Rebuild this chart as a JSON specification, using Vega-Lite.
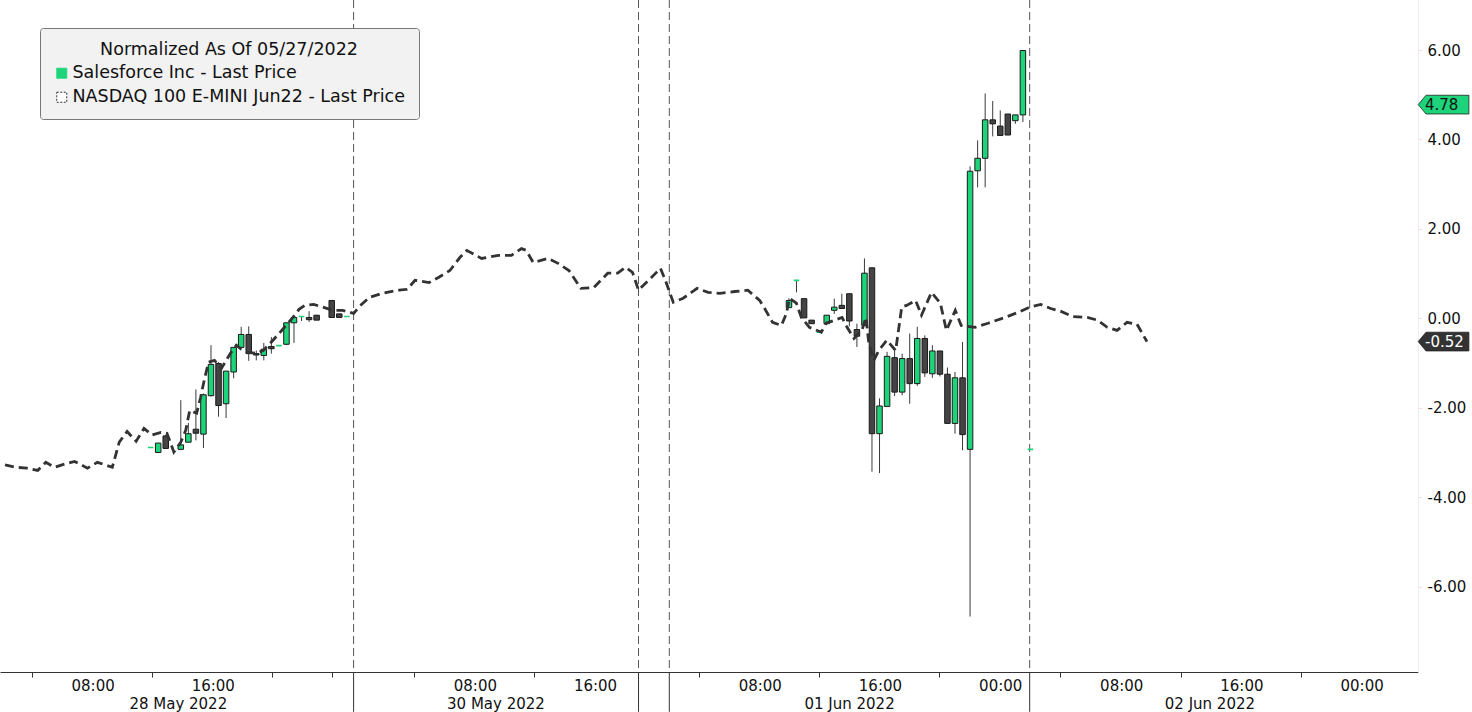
{
  "$schema": "https://vega.github.io/schema/vega-lite/v6.json",
  "width": 1418,
  "height": 672,
  "autosize": "none",
  "padding": {"left": 0, "top": 0, "right": 54, "bottom": 40},
  "background": "#ffffff",
  "config": {"font": "DejaVu Sans", "view": {"stroke": null}},
  "datasets": {
    "candles": [
      {"t": 9.65, "open": -2.89, "high": -2.89, "low": -2.89, "close": -2.89},
      {"t": 10.15, "open": -3.0, "high": -2.79, "low": -3.0, "close": -2.79},
      {"t": 10.65, "open": -2.63, "high": -2.6, "low": -2.91, "close": -2.91},
      {"t": 11.65, "open": -2.93, "high": -1.83, "low": -2.93, "close": -2.83},
      {"t": 12.15, "open": -2.77, "high": -2.34, "low": -2.77, "close": -2.58},
      {"t": 12.65, "open": -2.48, "high": -1.59, "low": -2.73, "close": -2.57},
      {"t": 13.15, "open": -2.59, "high": -1.68, "low": -2.9, "close": -1.71},
      {"t": 13.65, "open": -1.73, "high": -0.6, "low": -1.75, "close": -1.03},
      {"t": 14.15, "open": -1.01, "high": -0.98, "low": -2.2, "close": -1.95},
      {"t": 14.65, "open": -1.91, "high": -1.18, "low": -2.23, "close": -1.18},
      {"t": 15.15, "open": -1.2, "high": -0.65, "low": -1.34, "close": -0.65},
      {"t": 15.65, "open": -0.65, "high": -0.19, "low": -0.65, "close": -0.36},
      {"t": 16.15, "open": -0.36, "high": -0.18, "low": -0.95, "close": -0.79},
      {"t": 16.65, "open": -0.79, "high": -0.72, "low": -0.94, "close": -0.82},
      {"t": 17.15, "open": -0.83, "high": -0.55, "low": -0.94, "close": -0.69},
      {"t": 17.65, "open": -0.63, "high": -0.42, "low": -0.79, "close": -0.68},
      {"t": 18.15, "open": -0.61, "high": -0.61, "low": -0.61, "close": -0.61},
      {"t": 18.65, "open": -0.58, "high": -0.1, "low": -0.6, "close": -0.1},
      {"t": 19.15, "open": -0.1, "high": 0.02, "low": -0.55, "close": 0.02},
      {"t": 19.65, "open": 0.04, "high": 0.04, "low": -0.06, "close": 0.04},
      {"t": 20.15, "open": 0.02, "high": 0.16, "low": -0.08, "close": -0.03},
      {"t": 20.65, "open": 0.07, "high": 0.07, "low": -0.04, "close": -0.04},
      {"t": 21.65, "open": 0.4, "high": 0.4, "low": 0.02, "close": 0.02},
      {"t": 22.15, "open": 0.1, "high": 0.1, "low": 0.02, "close": 0.02},
      {"t": 22.65, "open": 0.04, "high": 0.04, "low": 0.04, "close": 0.04},
      {"t": 51.95, "open": 0.24, "high": 0.45, "low": 0.24, "close": 0.4},
      {"t": 52.45, "open": 0.85, "high": 0.85, "low": 0.58, "close": 0.85},
      {"t": 52.95, "open": 0.44, "high": 0.44, "low": 0.01, "close": 0.01},
      {"t": 53.45, "open": -0.04, "high": -0.04, "low": -0.12, "close": -0.12},
      {"t": 53.95, "open": -0.31, "high": -0.31, "low": -0.31, "close": -0.31},
      {"t": 54.45, "open": -0.12, "high": 0.07, "low": -0.12, "close": 0.07},
      {"t": 54.95, "open": 0.18, "high": 0.44, "low": 0.1, "close": 0.25},
      {"t": 55.45, "open": 0.29, "high": 0.55, "low": 0.22, "close": 0.22},
      {"t": 55.95, "open": 0.55, "high": 0.55, "low": -0.18, "close": -0.06},
      {"t": 56.45, "open": -0.25, "high": -0.12, "low": -0.64, "close": -0.4},
      {"t": 56.95, "open": -0.16, "high": 1.34, "low": -0.16, "close": 1.01},
      {"t": 57.45, "open": 1.13, "high": 1.13, "low": -3.43, "close": -2.58},
      {"t": 57.95, "open": -2.58, "high": -1.79, "low": -3.46, "close": -1.96},
      {"t": 58.45, "open": -1.97, "high": -0.75, "low": -1.97, "close": -0.85},
      {"t": 58.95, "open": -0.88, "high": -0.73, "low": -1.74, "close": -1.65},
      {"t": 59.45, "open": -1.65, "high": -0.79, "low": -1.72, "close": -0.9},
      {"t": 59.95, "open": -0.9, "high": -0.34, "low": -1.91, "close": -1.46},
      {"t": 60.45, "open": -1.46, "high": -0.19, "low": -1.51, "close": -0.45},
      {"t": 60.95, "open": -0.45, "high": -0.38, "low": -1.31, "close": -1.22},
      {"t": 61.45, "open": -1.24, "high": -0.6, "low": -1.33, "close": -0.73},
      {"t": 61.95, "open": -0.73, "high": -0.73, "low": -1.3, "close": -1.25},
      {"t": 62.45, "open": -1.25, "high": -1.1, "low": -2.35, "close": -2.35},
      {"t": 62.95, "open": -2.35, "high": -1.2, "low": -2.58, "close": -1.33},
      {"t": 63.45, "open": -1.33, "high": -0.53, "low": -2.95, "close": -2.6},
      {"t": 63.95, "open": -2.93, "high": 3.4, "low": -6.67, "close": 3.29},
      {"t": 64.45, "open": 3.3, "high": 3.98, "low": 2.93, "close": 3.58},
      {"t": 64.95, "open": 3.58, "high": 5.03, "low": 2.93, "close": 4.44},
      {"t": 65.45, "open": 4.44, "high": 4.86, "low": 4.07, "close": 4.35},
      {"t": 65.95, "open": 4.3, "high": 4.65, "low": 4.09, "close": 4.09},
      {"t": 66.45, "open": 4.57, "high": 4.57, "low": 4.1, "close": 4.1},
      {"t": 66.95, "open": 4.42, "high": 4.55, "low": 4.35, "close": 4.55},
      {"t": 67.45, "open": 4.55, "high": 5.99, "low": 4.39, "close": 5.99},
      {"t": 67.95, "open": -2.93, "high": -2.93, "low": -2.93, "close": -2.93}
    ],
    "nq": [
      {"t": 0, "v": -3.28, "series": "NASDAQ 100 E-MINI Jun22 - Last Price"},
      {"t": 0.66, "v": -3.33, "series": "NASDAQ 100 E-MINI Jun22 - Last Price"},
      {"t": 1.45, "v": -3.35, "series": "NASDAQ 100 E-MINI Jun22 - Last Price"},
      {"t": 2.17, "v": -3.4, "series": "NASDAQ 100 E-MINI Jun22 - Last Price"},
      {"t": 2.7, "v": -3.22, "series": "NASDAQ 100 E-MINI Jun22 - Last Price"},
      {"t": 3.29, "v": -3.33, "series": "NASDAQ 100 E-MINI Jun22 - Last Price"},
      {"t": 3.95, "v": -3.26, "series": "NASDAQ 100 E-MINI Jun22 - Last Price"},
      {"t": 4.61, "v": -3.2, "series": "NASDAQ 100 E-MINI Jun22 - Last Price"},
      {"t": 5.46, "v": -3.35, "series": "NASDAQ 100 E-MINI Jun22 - Last Price"},
      {"t": 6.12, "v": -3.22, "series": "NASDAQ 100 E-MINI Jun22 - Last Price"},
      {"t": 7.11, "v": -3.33, "series": "NASDAQ 100 E-MINI Jun22 - Last Price"},
      {"t": 7.57, "v": -2.77, "series": "NASDAQ 100 E-MINI Jun22 - Last Price"},
      {"t": 8.09, "v": -2.53, "series": "NASDAQ 100 E-MINI Jun22 - Last Price"},
      {"t": 8.69, "v": -2.75, "series": "NASDAQ 100 E-MINI Jun22 - Last Price"},
      {"t": 9.21, "v": -2.46, "series": "NASDAQ 100 E-MINI Jun22 - Last Price"},
      {"t": 9.74, "v": -2.61, "series": "NASDAQ 100 E-MINI Jun22 - Last Price"},
      {"t": 10.33, "v": -2.55, "series": "NASDAQ 100 E-MINI Jun22 - Last Price"},
      {"t": 10.73, "v": -2.57, "series": "NASDAQ 100 E-MINI Jun22 - Last Price"},
      {"t": 11.19, "v": -2.99, "series": "NASDAQ 100 E-MINI Jun22 - Last Price"},
      {"t": 11.65, "v": -2.77, "series": "NASDAQ 100 E-MINI Jun22 - Last Price"},
      {"t": 11.98, "v": -2.5, "series": "NASDAQ 100 E-MINI Jun22 - Last Price"},
      {"t": 12.24, "v": -2.06, "series": "NASDAQ 100 E-MINI Jun22 - Last Price"},
      {"t": 12.7, "v": -2.12, "series": "NASDAQ 100 E-MINI Jun22 - Last Price"},
      {"t": 12.96, "v": -1.77, "series": "NASDAQ 100 E-MINI Jun22 - Last Price"},
      {"t": 13.23, "v": -1.34, "series": "NASDAQ 100 E-MINI Jun22 - Last Price"},
      {"t": 13.49, "v": -0.98, "series": "NASDAQ 100 E-MINI Jun22 - Last Price"},
      {"t": 13.88, "v": -0.94, "series": "NASDAQ 100 E-MINI Jun22 - Last Price"},
      {"t": 14.34, "v": -1.12, "series": "NASDAQ 100 E-MINI Jun22 - Last Price"},
      {"t": 14.94, "v": -0.78, "series": "NASDAQ 100 E-MINI Jun22 - Last Price"},
      {"t": 15.33, "v": -0.6, "series": "NASDAQ 100 E-MINI Jun22 - Last Price"},
      {"t": 15.66, "v": -0.69, "series": "NASDAQ 100 E-MINI Jun22 - Last Price"},
      {"t": 16.12, "v": -0.76, "series": "NASDAQ 100 E-MINI Jun22 - Last Price"},
      {"t": 16.65, "v": -0.78, "series": "NASDAQ 100 E-MINI Jun22 - Last Price"},
      {"t": 17.11, "v": -0.72, "series": "NASDAQ 100 E-MINI Jun22 - Last Price"},
      {"t": 17.57, "v": -0.56, "series": "NASDAQ 100 E-MINI Jun22 - Last Price"},
      {"t": 18.16, "v": -0.34, "series": "NASDAQ 100 E-MINI Jun22 - Last Price"},
      {"t": 18.62, "v": -0.16, "series": "NASDAQ 100 E-MINI Jun22 - Last Price"},
      {"t": 19.08, "v": 0.02, "series": "NASDAQ 100 E-MINI Jun22 - Last Price"},
      {"t": 19.48, "v": 0.2, "series": "NASDAQ 100 E-MINI Jun22 - Last Price"},
      {"t": 19.87, "v": 0.29, "series": "NASDAQ 100 E-MINI Jun22 - Last Price"},
      {"t": 20.46, "v": 0.31, "series": "NASDAQ 100 E-MINI Jun22 - Last Price"},
      {"t": 21.06, "v": 0.25, "series": "NASDAQ 100 E-MINI Jun22 - Last Price"},
      {"t": 21.71, "v": 0.18, "series": "NASDAQ 100 E-MINI Jun22 - Last Price"},
      {"t": 22.37, "v": 0.18, "series": "NASDAQ 100 E-MINI Jun22 - Last Price"},
      {"t": 23.1, "v": 0.11, "series": "NASDAQ 100 E-MINI Jun22 - Last Price"},
      {"t": 23.49, "v": 0.27, "series": "NASDAQ 100 E-MINI Jun22 - Last Price"},
      {"t": 24.15, "v": 0.47, "series": "NASDAQ 100 E-MINI Jun22 - Last Price"},
      {"t": 25.0, "v": 0.56, "series": "NASDAQ 100 E-MINI Jun22 - Last Price"},
      {"t": 26.12, "v": 0.63, "series": "NASDAQ 100 E-MINI Jun22 - Last Price"},
      {"t": 26.65, "v": 0.65, "series": "NASDAQ 100 E-MINI Jun22 - Last Price"},
      {"t": 27.17, "v": 0.85, "series": "NASDAQ 100 E-MINI Jun22 - Last Price"},
      {"t": 28.1, "v": 0.8, "series": "NASDAQ 100 E-MINI Jun22 - Last Price"},
      {"t": 28.75, "v": 0.92, "series": "NASDAQ 100 E-MINI Jun22 - Last Price"},
      {"t": 29.48, "v": 1.07, "series": "NASDAQ 100 E-MINI Jun22 - Last Price"},
      {"t": 30.14, "v": 1.36, "series": "NASDAQ 100 E-MINI Jun22 - Last Price"},
      {"t": 30.6, "v": 1.52, "series": "NASDAQ 100 E-MINI Jun22 - Last Price"},
      {"t": 31.58, "v": 1.34, "series": "NASDAQ 100 E-MINI Jun22 - Last Price"},
      {"t": 32.7, "v": 1.41, "series": "NASDAQ 100 E-MINI Jun22 - Last Price"},
      {"t": 33.56, "v": 1.41, "series": "NASDAQ 100 E-MINI Jun22 - Last Price"},
      {"t": 34.22, "v": 1.56, "series": "NASDAQ 100 E-MINI Jun22 - Last Price"},
      {"t": 34.54, "v": 1.52, "series": "NASDAQ 100 E-MINI Jun22 - Last Price"},
      {"t": 35.0, "v": 1.25, "series": "NASDAQ 100 E-MINI Jun22 - Last Price"},
      {"t": 35.99, "v": 1.34, "series": "NASDAQ 100 E-MINI Jun22 - Last Price"},
      {"t": 36.65, "v": 1.23, "series": "NASDAQ 100 E-MINI Jun22 - Last Price"},
      {"t": 37.37, "v": 1.07, "series": "NASDAQ 100 E-MINI Jun22 - Last Price"},
      {"t": 38.16, "v": 0.67, "series": "NASDAQ 100 E-MINI Jun22 - Last Price"},
      {"t": 39.02, "v": 0.69, "series": "NASDAQ 100 E-MINI Jun22 - Last Price"},
      {"t": 39.94, "v": 1.01, "series": "NASDAQ 100 E-MINI Jun22 - Last Price"},
      {"t": 40.6, "v": 1.01, "series": "NASDAQ 100 E-MINI Jun22 - Last Price"},
      {"t": 41.12, "v": 1.14, "series": "NASDAQ 100 E-MINI Jun22 - Last Price"},
      {"t": 41.58, "v": 1.03, "series": "NASDAQ 100 E-MINI Jun22 - Last Price"},
      {"t": 41.98, "v": 0.63, "series": "NASDAQ 100 E-MINI Jun22 - Last Price"},
      {"t": 42.77, "v": 0.89, "series": "NASDAQ 100 E-MINI Jun22 - Last Price"},
      {"t": 43.43, "v": 1.12, "series": "NASDAQ 100 E-MINI Jun22 - Last Price"},
      {"t": 43.76, "v": 0.85, "series": "NASDAQ 100 E-MINI Jun22 - Last Price"},
      {"t": 44.28, "v": 0.36, "series": "NASDAQ 100 E-MINI Jun22 - Last Price"},
      {"t": 44.94, "v": 0.45, "series": "NASDAQ 100 E-MINI Jun22 - Last Price"},
      {"t": 45.86, "v": 0.67, "series": "NASDAQ 100 E-MINI Jun22 - Last Price"},
      {"t": 46.59, "v": 0.58, "series": "NASDAQ 100 E-MINI Jun22 - Last Price"},
      {"t": 47.37, "v": 0.56, "series": "NASDAQ 100 E-MINI Jun22 - Last Price"},
      {"t": 48.36, "v": 0.6, "series": "NASDAQ 100 E-MINI Jun22 - Last Price"},
      {"t": 49.22, "v": 0.63, "series": "NASDAQ 100 E-MINI Jun22 - Last Price"},
      {"t": 50.01, "v": 0.4, "series": "NASDAQ 100 E-MINI Jun22 - Last Price"},
      {"t": 50.34, "v": 0.22, "series": "NASDAQ 100 E-MINI Jun22 - Last Price"},
      {"t": 50.86, "v": -0.09, "series": "NASDAQ 100 E-MINI Jun22 - Last Price"},
      {"t": 51.45, "v": -0.16, "series": "NASDAQ 100 E-MINI Jun22 - Last Price"},
      {"t": 51.78, "v": 0.11, "series": "NASDAQ 100 E-MINI Jun22 - Last Price"},
      {"t": 51.98, "v": 0.45, "series": "NASDAQ 100 E-MINI Jun22 - Last Price"},
      {"t": 52.44, "v": 0.34, "series": "NASDAQ 100 E-MINI Jun22 - Last Price"},
      {"t": 52.77, "v": 0.02, "series": "NASDAQ 100 E-MINI Jun22 - Last Price"},
      {"t": 53.3, "v": -0.2, "series": "NASDAQ 100 E-MINI Jun22 - Last Price"},
      {"t": 54.09, "v": -0.31, "series": "NASDAQ 100 E-MINI Jun22 - Last Price"},
      {"t": 54.41, "v": -0.11, "series": "NASDAQ 100 E-MINI Jun22 - Last Price"},
      {"t": 55.47, "v": 0.02, "series": "NASDAQ 100 E-MINI Jun22 - Last Price"},
      {"t": 55.8, "v": -0.2, "series": "NASDAQ 100 E-MINI Jun22 - Last Price"},
      {"t": 56.26, "v": -0.45, "series": "NASDAQ 100 E-MINI Jun22 - Last Price"},
      {"t": 56.78, "v": -0.27, "series": "NASDAQ 100 E-MINI Jun22 - Last Price"},
      {"t": 57.05, "v": 0.02, "series": "NASDAQ 100 E-MINI Jun22 - Last Price"},
      {"t": 57.24, "v": -0.56, "series": "NASDAQ 100 E-MINI Jun22 - Last Price"},
      {"t": 57.57, "v": -0.94, "series": "NASDAQ 100 E-MINI Jun22 - Last Price"},
      {"t": 57.9, "v": -0.72, "series": "NASDAQ 100 E-MINI Jun22 - Last Price"},
      {"t": 58.43, "v": -0.49, "series": "NASDAQ 100 E-MINI Jun22 - Last Price"},
      {"t": 59.02, "v": -0.72, "series": "NASDAQ 100 E-MINI Jun22 - Last Price"},
      {"t": 59.42, "v": 0.25, "series": "NASDAQ 100 E-MINI Jun22 - Last Price"},
      {"t": 59.74, "v": 0.29, "series": "NASDAQ 100 E-MINI Jun22 - Last Price"},
      {"t": 60.34, "v": 0.4, "series": "NASDAQ 100 E-MINI Jun22 - Last Price"},
      {"t": 60.73, "v": 0.07, "series": "NASDAQ 100 E-MINI Jun22 - Last Price"},
      {"t": 61.39, "v": 0.58, "series": "NASDAQ 100 E-MINI Jun22 - Last Price"},
      {"t": 61.98, "v": 0.34, "series": "NASDAQ 100 E-MINI Jun22 - Last Price"},
      {"t": 62.38, "v": -0.27, "series": "NASDAQ 100 E-MINI Jun22 - Last Price"},
      {"t": 62.97, "v": 0.18, "series": "NASDAQ 100 E-MINI Jun22 - Last Price"},
      {"t": 63.36, "v": -0.16, "series": "NASDAQ 100 E-MINI Jun22 - Last Price"},
      {"t": 64.28, "v": -0.2, "series": "NASDAQ 100 E-MINI Jun22 - Last Price"},
      {"t": 65.14, "v": -0.11, "series": "NASDAQ 100 E-MINI Jun22 - Last Price"},
      {"t": 66.26, "v": 0.02, "series": "NASDAQ 100 E-MINI Jun22 - Last Price"},
      {"t": 67.11, "v": 0.13, "series": "NASDAQ 100 E-MINI Jun22 - Last Price"},
      {"t": 67.9, "v": 0.25, "series": "NASDAQ 100 E-MINI Jun22 - Last Price"},
      {"t": 68.63, "v": 0.31, "series": "NASDAQ 100 E-MINI Jun22 - Last Price"},
      {"t": 69.29, "v": 0.22, "series": "NASDAQ 100 E-MINI Jun22 - Last Price"},
      {"t": 69.94, "v": 0.16, "series": "NASDAQ 100 E-MINI Jun22 - Last Price"},
      {"t": 70.73, "v": 0.04, "series": "NASDAQ 100 E-MINI Jun22 - Last Price"},
      {"t": 71.72, "v": 0.02, "series": "NASDAQ 100 E-MINI Jun22 - Last Price"},
      {"t": 72.38, "v": -0.04, "series": "NASDAQ 100 E-MINI Jun22 - Last Price"},
      {"t": 73.04, "v": -0.2, "series": "NASDAQ 100 E-MINI Jun22 - Last Price"},
      {"t": 73.69, "v": -0.27, "series": "NASDAQ 100 E-MINI Jun22 - Last Price"},
      {"t": 74.35, "v": -0.09, "series": "NASDAQ 100 E-MINI Jun22 - Last Price"},
      {"t": 75.01, "v": -0.13, "series": "NASDAQ 100 E-MINI Jun22 - Last Price"},
      {"t": 75.67, "v": -0.52, "series": "NASDAQ 100 E-MINI Jun22 - Last Price"}
    ],
    "seps": [{"t": 23.1}, {"t": 41.98}, {"t": 44.02}, {"t": 67.9}],
    "tags": [
      {"label": "4.78", "v": 4.78, "series": "Salesforce Inc - Last Price"},
      {"label": "-0.52", "v": -0.52, "series": "NASDAQ 100 E-MINI Jun22 - Last Price"}
    ]
  },
  "layer": [
    {
      "data": {"name": "seps"},
      "mark": {"type": "rule", "color": "#555555", "strokeWidth": 1, "strokeDash": [8, 4]},
      "encoding": {
        "x": {
          "field": "t", "type": "quantitative",
          "scale": {"domain": [0, 93.3], "nice": false, "zero": false},
          "axis": {
            "orient": "bottom", "title": null, "domain": false, "ticks": false, "grid": false,
            "values": [11.45, 32.5, 55.93, 79.81],
            "labelExpr": "datum.value < 20 ? '28 May 2022' : datum.value < 45 ? '30 May 2022' : datum.value < 70 ? '01 Jun 2022' : '02 Jun 2022'",
            "labelPadding": 24, "labelFont": "DejaVu Sans", "labelFontSize": 15, "labelColor": "#111111",
            "labelFlush": false, "labelOverlap": false
          }
        }
      }
    },
    {
      "data": {"name": "seps"},
      "mark": {"type": "rule", "color": "#333333", "strokeWidth": 1},
      "encoding": {
        "x": {"field": "t", "type": "quantitative", "scale": {"domain": [0, 93.3], "nice": false, "zero": false}, "axis": null},
        "y": {"datum": -7.91, "type": "quantitative", "scale": {"domain": [-7.91, 7.12], "nice": false, "zero": false}, "axis": null},
        "y2": {"datum": -8.8}
      }
    },
    {
      "data": {"name": "candles"},
      "mark": {"type": "rule", "color": "#3a3a3a", "strokeWidth": 1},
      "encoding": {
        "x": {"field": "t", "type": "quantitative", "scale": {"domain": [0, 93.3], "nice": false, "zero": false}, "axis": null},
        "y": {"field": "low", "type": "quantitative", "scale": {"domain": [-7.91, 7.12], "nice": false, "zero": false}, "axis": null},
        "y2": {"field": "high"}
      }
    },
    {
      "data": {"name": "candles"},
      "mark": {"type": "bar", "width": 5.5},
      "encoding": {
        "x": {
          "field": "t", "type": "quantitative",
          "scale": {"domain": [0, 93.3], "nice": false, "zero": false},
          "axis": {
            "orient": "bottom", "title": null, "grid": false,
            "values": [1.78, 9.74, 17.7, 21.65, 27.11, 35.07, 45.99, 53.95, 61.92, 69.94, 77.9, 85.87],
            "labelExpr": "['08:00','16:00','','','08:00','16:00','08:00','16:00','00:00','08:00','16:00','00:00'][indexof([1.78, 9.74, 17.7, 21.65, 27.11, 35.07, 45.99, 53.95, 61.92, 69.94, 77.9, 85.87], datum.value)]",
            "labelOffset": 60.75, "labelPadding": 1, "labelFlush": false, "labelOverlap": false,
            "labelFont": "DejaVu Sans", "labelFontSize": 15, "labelColor": "#111111",
            "domainColor": "#333333", "domainWidth": 1, "tickColor": "#333333", "tickSize": 5, "tickWidth": 1
          }
        },
        "y": {
          "field": "open", "type": "quantitative",
          "scale": {"domain": [-7.91, 7.12], "nice": false, "zero": false},
          "axis": {
            "orient": "right", "title": null, "grid": false,
            "values": [-6, -4, -2, 0, 2, 4, 6],
            "labelExpr": "(datum.value < 0 ? '-' : '') + format(abs(datum.value), '.2f')",
            "labelFont": "DejaVu Sans", "labelFontSize": 15, "labelColor": "#111111", "labelAlign": "left",
            "labelPadding": 5, "tickSize": 4, "tickColor": "#f3dde3", "domainColor": "#eeeeee"
          }
        },
        "y2": {"field": "close"},
        "fill": {"condition": {"test": "datum.close >= datum.open", "value": "#1ed47a"}, "value": "#444444"},
        "stroke": {"condition": {"test": "datum.close == datum.open", "value": "#1ed47a"}, "value": "#1a1a1a"},
        "strokeWidth": {"condition": {"test": "datum.close == datum.open", "value": 1.6}, "value": 1}
      }
    },
    {
      "data": {"name": "nq"},
      "mark": {"type": "line", "strokeDash": [9, 5], "strokeWidth": 2.8},
      "encoding": {
        "x": {"field": "t", "type": "quantitative", "scale": {"domain": [0, 93.3], "nice": false, "zero": false}, "axis": null},
        "y": {"field": "v", "type": "quantitative", "scale": {"domain": [-7.91, 7.12], "nice": false, "zero": false}, "axis": null},
        "color": {
          "field": "series", "type": "nominal",
          "scale": {"domain": ["Salesforce Inc - Last Price", "NASDAQ 100 E-MINI Jun22 - Last Price"], "range": ["#1ed47a", "#333333"]},
          "legend": {
            "orient": "none", "legendX": 40, "legendY": 28,
            "title": "Normalized As Of 05/27/2022", "titleAnchor": "middle", "titleLimit": 600, "labelLimit": 600,
            "titleFont": "DejaVu Sans", "titleFontSize": 17.5, "titleFontWeight": "normal", "titleColor": "#111111", "titlePadding": 6,
            "labelFont": "DejaVu Sans", "labelFontSize": 17.5, "labelColor": "#111111", "labelOffset": 2,
            "symbolType": "square", "symbolSize": 100, "rowPadding": 5, "symbolStrokeWidth": 1,
            "fillColor": "#f2f2f2", "strokeColor": "#777777", "cornerRadius": 3, "padding": 13,
            "encode": {
              "symbols": {
                "update": {
                  "fill": {"signal": "datum.value === 'Salesforce Inc - Last Price' ? '#1ed47a' : '#ffffff'"},
                  "stroke": {"signal": "datum.value === 'Salesforce Inc - Last Price' ? '#1ed47a' : '#555555'"},
                  "strokeDash": {"signal": "datum.value === 'Salesforce Inc - Last Price' ? [1, 0] : [2, 1.5]"}
                }
              }
            }
          }
        }
      }
    },
    {
      "data": {"name": "tags"},
      "mark": {"type": "point", "shape": "M0.2,0L0.5,-0.36L2.15,-0.36L2.15,0.36L0.5,0.36Z", "size": 2704, "filled": true, "strokeWidth": 0.8, "stroke": "#222222", "opacity": 1},
      "encoding": {
        "x": {"datum": 93.3, "type": "quantitative", "scale": {"domain": [0, 93.3], "nice": false, "zero": false}, "axis": null},
        "y": {"field": "v", "type": "quantitative", "scale": {"domain": [-7.91, 7.12], "nice": false, "zero": false}, "axis": null},
        "fill": {"condition": {"test": "datum.v > 0", "value": "#1ed47a"}, "value": "#333333"}
      }
    },
    {
      "data": {"name": "tags"},
      "mark": {"type": "text", "align": "left", "baseline": "middle", "dx": 12, "font": "DejaVu Sans", "fontSize": 15},
      "encoding": {
        "x": {"datum": 93.3, "type": "quantitative", "scale": {"domain": [0, 93.3], "nice": false, "zero": false}, "axis": null},
        "y": {"field": "v", "type": "quantitative", "scale": {"domain": [-7.91, 7.12], "nice": false, "zero": false}, "axis": null},
        "text": {"field": "label"},
        "color": {"condition": {"test": "datum.v > 0", "value": "#111111"}, "value": "#ffffff"}
      }
    }
  ],
  "resolve": {"axis": {"x": "independent", "y": "independent"}}
}
